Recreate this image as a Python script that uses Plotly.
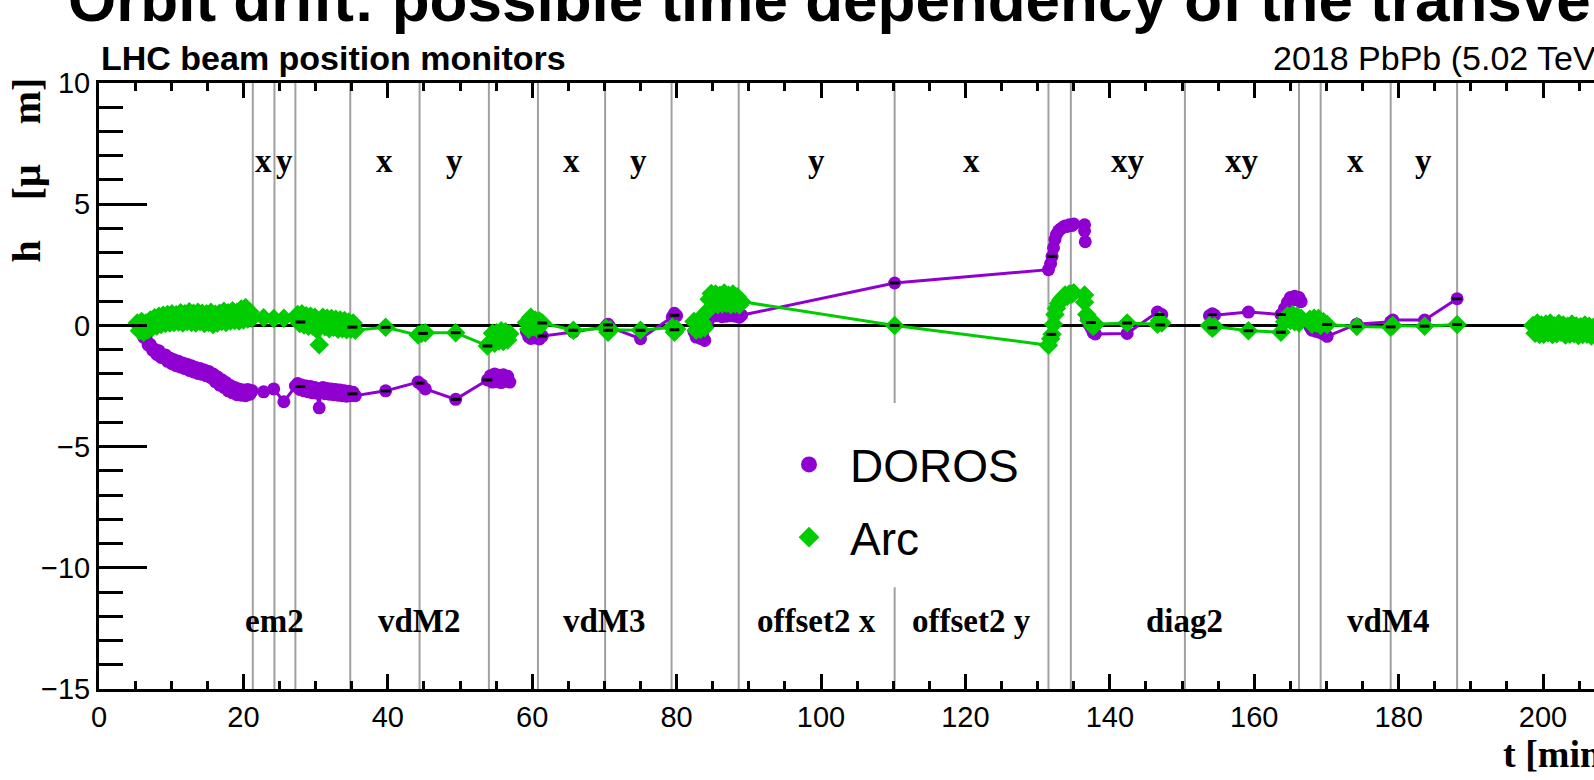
import plotly.graph_objects as go

# ---------------------------------------------------------------- data
# DOROS (purple) orbit position h [um] vs time t [min]; None breaks the line
doros_t = [
    5.3, 5.6, 5.9, 6.2, 6.5, 6.8, 7.1, 7.4, 7.7, 8.0, 8.3, 8.6, 8.9, 9.2, 9.5, 9.8,
    10.1, 10.4, 10.7, 11.0, 11.3, 11.6, 11.9, 12.2, 12.5, 12.8, 13.1, 13.4, 13.7, 14.0,
    14.3, 14.6, 14.9, 15.2, 15.5, 15.8, 16.1, 16.4, 16.7, 17.0, 17.3, 17.6, 17.9, 18.2,
    18.5, 18.8, 19.1, 19.4, 19.7, 20.0, 20.3, 20.6, 20.9, 21.2,
    22.8, 24.2, 25.6, 27.2,
    27.5, 27.8, 28.1, 28.4, 28.7, 29.0, 29.3, 29.6, 29.9, 30.2, 30.5, 30.7, 31.0, 31.3,
    31.6, 31.9, 32.2, 32.5, 32.8, 33.1, 33.4, 33.7, 34.0, 34.3, 34.6, 34.9, 35.2, 35.5,
    39.7, 44.2, 44.7, 45.2, 49.4, 53.8,
    54.2, 54.5, 54.8, 55.1, 55.4, 55.7, 56.0, 56.3, 56.6, 56.9,
    None,
    59.2, 59.5, 59.8, 60.1, 60.4, 60.7, 61.0, 61.4,
    65.7, 70.2, 70.5, 70.8, 75.0, 79.4, 79.7, 80.0,
    None,
    82.4, 82.7, 83.0, 83.3, 83.6, 83.9,
    84.3, 84.5, 84.8, 85.1, 85.4, 85.7, 86.0, 86.3, 86.6, 86.9, 87.2, 87.5, 87.8, 88.1,
    88.4, 88.7, 89.0,
    110.2, 131.5,
    131.8, 132.0, 132.2, 132.4, 132.6, 132.9, 133.2, 133.5, 133.8, 134.1, 134.4, 134.7, 135.0,
    None,
    136.5, 136.5, 136.6,
    None,
    136.8, 137.1, 137.4, 137.7, 138.0, 142.4, 146.6, 146.9, 147.2,
    None,
    153.8, 154.2, 154.5, 159.2, 163.7,
    164.2, 164.6, 165.0, 165.3, 165.6, 165.9, 166.2, 166.5,
    None,
    167.7, 168.0, 168.3, 168.6, 168.9, 169.2, 169.6, 170.1,
    174.2, 178.9, 179.2, 183.6, 188.1,
]
doros_h = [
    0.05, -0.18, -0.20, -0.50, -0.52, -0.80, -0.78, -1.02, -0.98, -1.20, -1.05, -1.32, -1.24, -1.22, -1.48, -1.34,
    -1.58, -1.42, -1.66, -1.48, -1.72, -1.55, -1.78, -1.60, -1.86, -1.66, -1.92, -1.74, -1.98, -1.78,
    -2.02, -1.84, -2.08, -1.90, -2.16, -2.00, -2.32, -2.12, -2.46, -2.24, -2.56, -2.36, -2.70, -2.48,
    -2.78, -2.56, -2.86, -2.62, -2.88, -2.66, -2.90, -2.64, -2.84, -2.70,
    -2.74, -2.62, -3.15, -2.50,
    -2.40, -2.64, -2.46, -2.70, -2.50, -2.74, -2.52, -2.78, -2.56, -2.80, -3.40, -2.66, -2.56, -2.82,
    -2.60, -2.84, -2.62, -2.86, -2.64, -2.88, -2.66, -2.90, -2.70, -2.92, -2.72, -2.90, -2.76, -2.90,
    -2.70, -2.34, -2.45, -2.62, -3.05, -2.25,
    -2.08, -2.34, -2.00, -2.32, -2.06, -2.36, -2.04, -2.30, -2.10, -2.34,
    None,
    -0.26, -0.46, -0.54, -0.34, -0.52, -0.36, -0.56, -0.44,
    -0.27, -0.05, 0.05, -0.08, -0.55, 0.35, 0.50, 0.40,
    None,
    -0.26, -0.48, -0.32, -0.54, -0.38, -0.62,
    0.10, 0.40, 0.60, 0.38, 0.62, 0.40, 0.60, 0.36, 0.56, 0.38, 0.60, 0.40, 0.62, 0.38,
    0.55, 0.34, 0.42,
    1.75, 2.30,
    2.55, 2.85, 3.20, 3.55, 3.75, 3.90, 3.98, 4.05, 4.10, 4.08, 4.15, 4.12, 4.18,
    None,
    4.15, 3.90, 3.45,
    None,
    0.30, 0.05, -0.10, -0.30, -0.35, -0.33, 0.55, 0.35, 0.45,
    None,
    0.40, 0.48, 0.42, 0.55, 0.45,
    0.70, 0.95, 1.15, 1.05, 1.20, 1.05, 1.15, 0.98,
    None,
    -0.05, -0.20, -0.10, -0.25, -0.15, -0.30, -0.35, -0.45,
    0.05, 0.15, 0.22, 0.22, 1.10,
]

# Arc BPMs (green)
arc_t = [
    5.3, 5.6, 5.9, 6.2, 6.5, 6.8, 7.1, 7.4, 7.7, 8.0, 8.3, 8.6, 8.9, 9.2, 9.5, 9.8,
    10.1, 10.4, 10.7, 11.0, 11.3, 11.6, 11.9, 12.2, 12.5, 12.8, 13.1, 13.4, 13.7, 14.0,
    14.3, 14.6, 14.9, 15.2, 15.5, 15.8, 16.1, 16.4, 16.7, 17.0, 17.3, 17.6, 17.9, 18.2,
    18.5, 18.8, 19.1, 19.4, 19.7, 20.0, 20.3, 20.6, 20.9, 21.2,
    22.8, 24.2, 25.6, 27.2,
    27.5, 27.8, 28.1, 28.4, 28.7, 29.0, 29.3, 29.6, 29.9, 30.2, 30.5, 30.7, 31.0, 31.3,
    31.6, 31.9, 32.2, 32.5, 32.8, 33.1, 33.4, 33.7, 34.0, 34.3, 34.6, 34.9, 35.2, 35.5,
    39.7, 44.2, 44.7, 45.2, 49.4, 53.8,
    54.2, 54.5, 54.8, 55.1, 55.4, 55.7, 56.0, 56.3, 56.6, 56.9,
    None,
    59.2, 59.5, 59.8, 60.1, 60.4, 60.7, 61.0, 61.4,
    65.7, 70.2, 70.5, 70.8, 75.0, 79.4, 79.7, 80.0,
    None,
    82.4, 82.7, 83.0, 83.3, 83.6, 83.9,
    84.3, 84.5, 84.8, 85.1, 85.4, 85.7, 86.0, 86.3, 86.6, 86.9, 87.2, 87.5, 87.8, 88.1,
    88.4, 88.7, 89.0,
    110.2, 131.5,
    131.8, 132.0, 132.2, 132.4, 132.6, 132.9, 133.2, 133.5, 133.8, 134.1, 134.4, 134.7, 135.0,
    None,
    136.5, 136.5,
    None,
    136.8, 137.1, 137.4, 137.7, 138.0, 142.4, 146.6, 146.9, 147.2,
    None,
    153.8, 154.2, 154.5, 159.2, 163.7,
    164.2, 164.6, 165.0, 165.3, 165.6, 165.9, 166.2, 166.5,
    None,
    167.7, 168.0, 168.3, 168.6, 168.9, 169.2, 169.6, 170.1,
    174.2, 178.9, 179.2, 183.6, 188.1,
    None,
    198.6, 198.9, 199.2, 199.5, 199.8, 200.1, 200.4, 200.7, 201.0, 201.3, 201.6, 201.9,
    202.2, 202.5, 202.8, 203.1, 203.4, 203.7, 204.0, 204.3, 204.6, 204.9, 205.2, 205.5,
    205.8, 206.1, 206.4, 206.7, 207.0, 207.3, 207.6, 207.9, 208.2, 208.5, 208.8, 209.1,
]
arc_h = [
    0.10, -0.22, 0.16, -0.28, 0.10, -0.18, 0.22, -0.08, 0.32, -0.02, 0.38, 0.04, 0.42, 0.08, 0.45, 0.10,
    0.48, 0.12, 0.44, 0.14, 0.52, 0.10, 0.48, 0.16, 0.56, 0.12, 0.50, 0.10, 0.54, 0.16,
    0.50, 0.08, 0.48, 0.12, 0.54, 0.04, 0.46, 0.10, 0.50, 0.16, 0.58, 0.12, 0.52, 0.18,
    0.60, 0.20, 0.54, 0.18, 0.68, 0.22, 0.74, 0.26, 0.56, 0.30,
    0.32, 0.28, 0.30, 0.32,
    0.45, 0.08, 0.48, 0.02, 0.40, -0.04, 0.38, -0.02, 0.34, -0.18, -0.80, 0.00, 0.34, -0.06,
    0.30, -0.14, 0.28, -0.08, 0.25, -0.16, 0.22, -0.14, 0.20, -0.18, 0.14, -0.16, 0.10, -0.20,
    -0.08, -0.40, -0.32, -0.30, -0.30, -0.85,
    -0.68, -0.32, -0.74, -0.30, -0.64, -0.22, -0.66, -0.26, -0.60, -0.34,
    None,
    0.12, -0.16, 0.34, -0.06, 0.22, -0.14, 0.18, 0.10,
    -0.20, -0.12, -0.28, -0.18, -0.20, -0.08, -0.28, -0.15,
    None,
    0.16, -0.20, 0.20, -0.16, 0.10, -0.10,
    0.60, 1.08, 1.32, 0.88, 1.30, 0.85, 1.24, 0.88, 1.34, 0.90, 1.24, 0.85, 1.30, 0.88,
    1.18, 0.84, 0.98,
    0.00, -0.82,
    -0.55, -0.37, 0.05, 0.45, 0.70, 0.90, 1.05, 1.15, 1.25, 1.20, 1.30, 1.28, 1.35,
    None,
    1.25, 0.95,
    None,
    0.45, 0.20, 0.10, -0.05, 0.05, 0.10, 0.05, 0.20, 0.10,
    None,
    0.00, -0.12, -0.05, -0.22, -0.28,
    0.15, 0.40, 0.20, 0.45, 0.15, 0.38, 0.10, 0.30,
    None,
    0.25, 0.05, 0.30, 0.10, 0.28, 0.00, 0.15, 0.04,
    -0.05, -0.08, 0.00, -0.03, 0.04,
    None,
    0.00, -0.32, 0.10, -0.38, 0.02, -0.36, 0.06, -0.30, 0.10, -0.38, -0.02, -0.34,
    0.08, -0.28, 0.02, -0.40, -0.04, -0.36, 0.06, -0.34, -0.02, -0.42, -0.06, -0.38,
    0.02, -0.36, -0.04, -0.44, -0.08, -0.38, -0.02, -0.40, -0.06, -0.36, 0.00, -0.38,
]

# per-step mean positions (small black dashes)
step_t = [27.9, 35.1, 39.7, 44.9, 49.4, 53.8, 61.4, 65.7, 70.5, 75.0, 79.7, 110.2,
          131.9, 137.4, 142.4, 147.0, 154.2, 159.2, 163.7, 170.1, 174.2, 178.9, 183.6, 188.1,
          27.9, 35.1, 39.7, 44.4, 49.4, 53.8, 61.4, 70.5, 79.7, 110.2, 132.0, 146.9,
          154.2, 163.7, 188.1]
step_h = [0.14, -0.07, -0.08, -0.33, -0.30, -0.85, 0.10, -0.20, -0.20, -0.20, -0.18, 0.00,
          -0.37, 0.12, 0.10, 0.02, -0.10, -0.22, -0.28, 0.04, -0.05, -0.06, -0.03, 0.04,
          -2.52, -2.82, -2.70, -2.38, -3.05, -2.25, -0.44, 0.02, 0.42, 1.75, 2.85, 0.45,
          0.45, 0.45, 1.10]

# scan-step boundaries [min]
boundaries = [21.3, 24.3, 27.2, 34.8, 44.4, 54.0, 60.8, 70.1, 79.3, 88.6, 110.2,
              131.5, 134.6, 150.4, 166.2, 169.2, 178.9, 188.1]

# scan plane labels (upper row) and scan names (lower row): (text, start, end)
plane_labels = [("x", 21.3, 24.3), ("y", 24.3, 27.2), ("x", 34.8, 44.4), ("y", 44.4, 54.0),
                ("x", 60.8, 70.1), ("y", 70.1, 79.3), ("y", 88.6, 110.2), ("x", 110.2, 131.5),
                ("xy", 134.6, 150.4), ("xy", 150.4, 166.2), ("x", 169.2, 178.9),
                ("y", 178.9, 188.1)]
scan_labels = [("em2", 21.3, 27.2), ("vdM2", 34.8, 54.0), ("vdM3", 60.8, 79.3),
               ("offset2 x", 88.6, 110.2), ("offset2 y", 110.2, 131.5),
               ("diag2", 134.6, 166.2), ("vdM4", 169.2, 188.1)]

# ---------------------------------------------------------------- style
PURPLE = "#9000d0"
GREEN = "#00cc00"
SANS = "Liberation Sans, Arial, Helvetica, sans-serif"
SERIF = "Liberation Serif, Times New Roman, serif"

# the pad frame runs past the right page edge: the visible window ends at t ~ 207
W, H = 1594, 780
ML, MT = 99, 83
PW, PH = W - ML, 606
MB = H - MT - PH
T_VISIBLE = 207.06
H_RANGE = [-15, 10]


def xp(px):
    return (px - ML) / PW


def yp(py):
    return (MT + PH - py) / PH


fig = go.Figure()

series = [
    ("DOROS", doros_t, doros_h, PURPLE, "circle", 13),
    ("Arc", arc_t, arc_h, GREEN, "diamond", 15),
]
for name, t, h, color, symbol, size in series:
    fig.add_trace(go.Scatter(
        x=t, y=h, name=name, mode="lines+markers", showlegend=False,
        line=dict(color=color, width=3),
        marker=dict(symbol=symbol, size=size, color=color),
        connectgaps=False,
    ))

fig.add_trace(go.Scatter(
    x=step_t, y=step_h, mode="markers", showlegend=False,
    marker=dict(symbol="line-ew", size=7, line=dict(width=3, color="black")),
))

# legend entries (marker only)
for name, t, h, color, symbol, size in series:
    fig.add_trace(go.Scatter(
        x=[None], y=[None], name=name, mode="markers", legendgroup=name,
        marker=dict(symbol=symbol, size=16, color=color),
    ))

# vertical lines marking scan-step boundaries
for b in boundaries:
    fig.add_shape(type="line", xref="x", yref="y", x0=b, x1=b, y0=H_RANGE[0], y1=H_RANGE[1],
                  line=dict(color="#a0a0a0", width=2), layer="below")

# white legend pad
fig.add_shape(type="rect", xref="x", yref="y", x0=91.5, x1=129.5, y0=-10.8, y1=-3.2,
              fillcolor="white", line=dict(width=0), layer="above")

label_font = dict(family=SERIF, size=33, color="black", weight="bold")
for text, a, b in plane_labels:
    fig.add_annotation(x=(a + b) / 2, y=6.8, xref="x", yref="y", text=text,
                       showarrow=False, font=label_font)
for text, a, b in scan_labels:
    fig.add_annotation(x=(a + b) / 2, y=-12.2, xref="x", yref="y", text=text,
                       showarrow=False, font=label_font)

# page title and panel headers
fig.add_annotation(x=xp(66), y=yp(0), xref="paper", yref="paper", xanchor="left", yanchor="middle",
                   text="Orbit drift: possible time dependency of the transverse",
                   showarrow=False, font=dict(family=SANS, size=62, color="black", weight="bold"))
fig.add_annotation(x=xp(99), y=yp(58), xref="paper", yref="paper", xanchor="left", yanchor="middle",
                   text="LHC beam position monitors", showarrow=False,
                   font=dict(family=SANS, size=34, color="black", weight="bold"))
fig.add_annotation(x=xp(1609), y=yp(58), xref="paper", yref="paper", xanchor="right", yanchor="middle",
                   text="2018 PbPb (5.02 TeV)", showarrow=False,
                   font=dict(family=SANS, size=34, color="black"))

# axis titles
fig.add_annotation(x=xp(1616), y=yp(754), xref="paper", yref="paper", xanchor="right", yanchor="middle",
                   text="t [min]", showarrow=False,
                   font=dict(family=SERIF, size=38, color="black", weight="bold"))
fig.add_annotation(x=xp(26), y=yp(76), xref="paper", yref="paper", xanchor="center", yanchor="top",
                   text="h\u2003[μ\u2003m]", textangle=-90, showarrow=False,
                   font=dict(family=SERIF, size=40, color="black", weight="bold"))

tick_font = dict(family=SANS, size=29, color="black")
fig.update_layout(
    xaxis=dict(
        range=[0, T_VISIBLE], tick0=0, dtick=20, ticks="inside", ticklen=15, tickwidth=3,
        tickcolor="black", showline=True, linecolor="black", linewidth=3, mirror="ticks",
        showgrid=False, zeroline=False, tickfont=tick_font, ticklabelstandoff=0,
        minor=dict(dtick=5, ticklen=8, tickwidth=3, tickcolor="black", ticks="inside"),
    ),
    yaxis=dict(
        range=H_RANGE, tick0=-15, dtick=5, ticks="inside", ticklen=48, tickwidth=3,
        tickcolor="black", showline=True, linecolor="black", linewidth=3, mirror=False,
        showgrid=False, zeroline=True, zerolinecolor="black", zerolinewidth=3,
        tickfont=tick_font, ticklabelstandoff=0,
        minor=dict(dtick=1, ticklen=24, tickwidth=3, tickcolor="black", ticks="inside"),
    ),
    # right-hand frame ticks; the frame itself sits just beyond the page edge
    yaxis2=dict(
        overlaying="y", side="right", range=H_RANGE, tick0=-15, dtick=5,
        ticks="inside", ticklen=27, tickwidth=3, tickcolor="black",
        showline=False, showgrid=False, zeroline=False, showticklabels=False,
        minor=dict(dtick=1, ticklen=3, tickwidth=3, tickcolor="black", ticks="inside"),
    ),
    width=W, height=H, margin=dict(l=ML, r=0, t=MT, b=MB),
    paper_bgcolor="white", plot_bgcolor="white",
    showlegend=True,
    legend=dict(x=xp(768), y=yp(428), xanchor="left", yanchor="top",
                bgcolor="rgba(0,0,0,0)", borderwidth=0,
                font=dict(family=SANS, size=46, color="black"),
                traceorder="grouped", tracegroupgap=10, itemwidth=72),
)

fig.write_html("out.html")
